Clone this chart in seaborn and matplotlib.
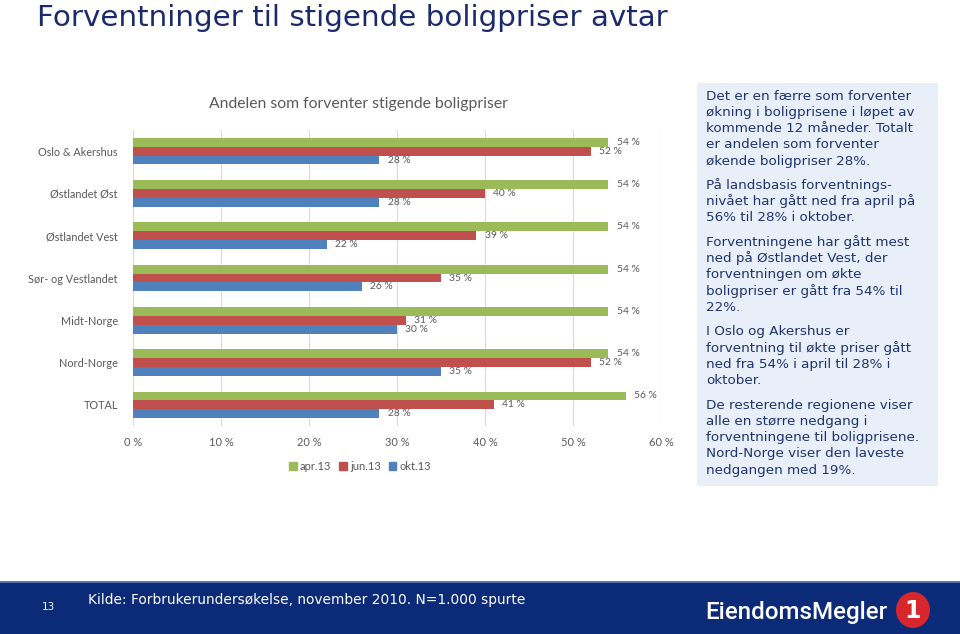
import matplotlib
matplotlib.use("Agg")
import matplotlib.pyplot as plt
import matplotlib.patches as mpatches
import seaborn as sns
import pandas as pd

# ---- data ----
categories = ["Oslo & Akershus", "Østlandet Øst", "Østlandet Vest", "Sør- og Vestlandet",
              "Midt-Norge", "Nord-Norge", "TOTAL"]
series_names = ["apr.13", "jun.13", "okt.13"]
apr13 = [54, 54, 54, 54, 54, 54, 56]
jun13 = [52, 40, 39, 35, 31, 52, 41]
okt13 = [28, 28, 22, 26, 30, 35, 28]
xticks = [0, 10, 20, 30, 40, 50, 60]
colors = ["#9BBB59", "#C0504D", "#4F81BD"]

page_title = "Forventninger til stigende boligpriser avtar"
chart_title = "Andelen som forventer stigende boligpriser"
paragraphs = [
    ["Det er en færre som forventer", "økning i boligprisene i løpet av",
     "kommende 12 måneder. Totalt", "er andelen som forventer",
     "økende boligpriser 28%."],
    ["På landsbasis forventnings-", "nivået har gått ned fra april på",
     "56% til 28% i oktober."],
    ["Forventningene har gått mest", "ned på Østlandet Vest, der",
     "forventningen om økte", "boligpriser er gått fra 54% til", "22%."],
    ["I Oslo og Akershus er", "forventning til økte priser gått",
     "ned fra 54% i april til 28% i", "oktober."],
    ["De resterende regionene viser", "alle en større nedgang i",
     "forventningene til boligprisene.", "Nord-Norge viser den laveste",
     "nedgangen med 19%."],
]
footer_source = "Kilde: Forbrukerundersøkelse, november 2010. N=1.000 spurte"
page_no = "13"

df = pd.DataFrame({
    "kategori": categories * 3,
    "serie": [s for s in series_names for _ in categories],
    "verdi": apr13 + jun13 + okt13,
})

sns.set_theme(style="white")
plt.rcParams["font.family"] = ["Lato", "DejaVu Sans"]

W, H = 960, 634
fig = plt.figure(figsize=(9.6, 6.34), dpi=100)
fig.patch.set_facecolor("white")

def fx(px):
    return px / W

def fy(py):
    return 1 - py / H

ax = fig.add_axes([fx(133), fy(426), fx(661) - fx(133), fy(130) - fy(426)])
sns.barplot(data=df, x="verdi", y="kategori", hue="serie", order=categories,
            hue_order=series_names, palette=colors, orient="h", width=0.63,
            ax=ax, legend=False, saturation=1, linewidth=0, edgecolor="none")

for cont in ax.containers:
    ax.bar_label(cont, labels=[f"{v:.0f} %" for v in cont.datavalues],
                 padding=6, fontsize=7.4, color="#595959")

ax.set_xlim(0, 60)
ax.set_ylim(6.5, -0.5)
ax.set_xticks(xticks)
ax.set_xticklabels([f"{t} %" for t in xticks], fontsize=8, color="#595959")
ax.tick_params(axis="y", labelsize=7.8, labelcolor="#595959", length=0, pad=11)
ax.tick_params(axis="x", length=0, pad=8)
ax.set_xlabel("")
ax.set_ylabel("")
ax.grid(axis="x", color="#D9D9D9", linewidth=0.8)
ax.set_axisbelow(True)
for s in ax.spines.values():
    s.set_visible(False)

# legend
handles = [mpatches.Patch(color=c, label=n) for c, n in zip(colors, series_names)]
leg = fig.legend(handles=handles, loc="center", bbox_to_anchor=(fx(360), fy(466)),
                 ncol=3, frameon=False, fontsize=8, handlelength=0.7,
                 handleheight=0.7, handletextpad=0.3, columnspacing=0.7)
for t in leg.get_texts():
    t.set_color("#595959")

fig.text(fx(358), fy(104), chart_title, ha="center", va="center",
         fontsize=11.3, color="#595959")

# page title
fig.text(fx(37), fy(18), page_title, ha="left", va="center",
         fontsize=21.2, color="#1B2A6B", family=["DejaVu Sans"])

# right text box
fig.patches.append(mpatches.Rectangle((fx(697), fy(486)), fx(938) - fx(697),
                                      fy(83) - fy(486), transform=fig.transFigure,
                                      facecolor="#E9EFF8", edgecolor="none", zorder=0))
starts = [96, 185, 242, 332, 405]
for para, y0 in zip(paragraphs, starts):
    for i, line in enumerate(para):
        fig.text(fx(706), fy(y0 + i * 16.3), line, ha="left", va="center",
                 fontsize=9.7, color="#1F3470", family=["DejaVu Sans"])

# footer
fig.patches.append(mpatches.Rectangle((0, 0), 1, fy(582), transform=fig.transFigure,
                                      facecolor="#0B2A78", edgecolor="none", zorder=0))
fig.patches.append(mpatches.Rectangle((0, fy(583)), 1, fy(581) - fy(583),
                                      transform=fig.transFigure,
                                      facecolor="#5A73A8", edgecolor="none", zorder=0))
fig.text(fx(48), fy(607), page_no, ha="center", va="center", fontsize=7.5,
         color="white", family=["DejaVu Sans"])
fig.text(fx(88), fy(600), footer_source, ha="left", va="center", fontsize=9.9,
         color="white", family=["DejaVu Sans"])
fig.text(fx(705), fy(612), "EiendomsMegler", ha="left", va="center", fontsize=17.4,
         color="white", family=["Roboto"], weight="medium")
circ = mpatches.Ellipse((fx(913), fy(610)), fx(34), fy(0) - fy(36),
                        transform=fig.transFigure, facecolor="#D7262C",
                        edgecolor="none")
fig.patches.append(circ)
fig.text(fx(913), fy(611), "1", ha="center", va="center", fontsize=17,
         color="white", weight="bold", family=["DejaVu Sans"])

fig.savefig("out.png", dpi=100)
